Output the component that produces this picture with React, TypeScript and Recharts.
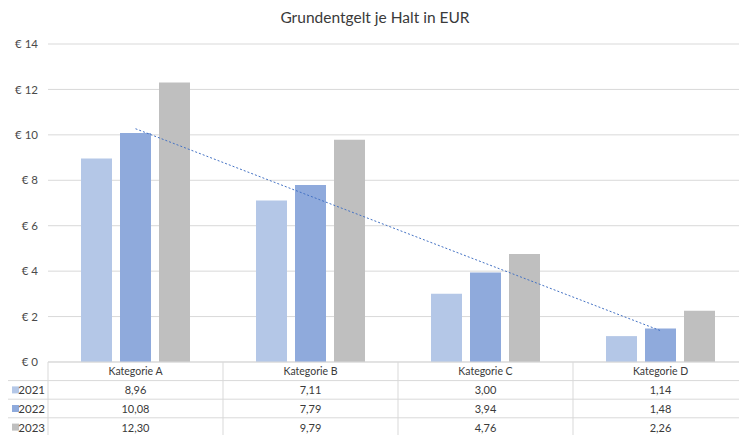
import React from 'react';
import { ComposedChart, Bar, Line, XAxis, YAxis, CartesianGrid } from 'recharts';

const categories = ['Kategorie A', 'Kategorie B', 'Kategorie C', 'Kategorie D'];
const values2021 = [8.96, 7.11, 3.0, 1.14];
const values2022 = [10.08, 7.79, 3.94, 1.48];
const values2023 = [12.3, 9.79, 4.76, 2.26];
const trend2022 = [10.27, 7.3, 4.34, 1.38];
const seriesNames = ['2021', '2022', '2023'];
const seriesKeys = ['y2021', 'y2022', 'y2023'];
const seriesColors = ['#b4c7e7', '#8faadc', '#bfbfbf'];
const yTicks = [0, 2, 4, 6, 8, 10, 12, 14];
const title = 'Grundentgelt je Halt in EUR';

const seriesValues = [values2021, values2022, values2023];

const data = categories.map((c, i) => ({
  name: c,
  y2021: values2021[i],
  y2022: values2022[i],
  y2023: values2023[i],
  trend: trend2022[i],
}));

const FONT = 'Lato, "Open Sans", sans-serif';
const BORDER = '#d9d9d9';
const ROW = 18.6;
const fmt = (v: number) => v.toFixed(2).replace('.', ',');

function TableTick(props: any) {
  const { x, y, payload, index, width } = props;
  const half = payload && payload.offset ? payload.offset : width / categories.length / 2;
  const left = x - half;
  const right = x + half;
  const bottom = y + ROW * 4 + 4;
  const els: any[] = [];
  els.push(<line key="vl" x1={left} y1={y} x2={left} y2={bottom} stroke={BORDER} strokeWidth={1} />);
  if (index === categories.length - 1) {
    els.push(<line key="vr" x1={right} y1={y} x2={right} y2={bottom} stroke={BORDER} strokeWidth={1} />);
  }
  for (let r = 1; r <= 3; r++) {
    els.push(
      <line key={'h' + r} x1={left} y1={y + ROW * r} x2={right} y2={y + ROW * r} stroke={BORDER} strokeWidth={1} />
    );
  }
  els.push(
    <text key="hd" x={x} y={y + ROW / 2} textAnchor="middle" dominantBaseline="central" fontSize={10.5} fill="#3a3a3a" fontFamily={FONT}>
      {payload.value}
    </text>
  );
  seriesValues.forEach((vals, s) => {
    els.push(
      <text key={'v' + s} x={x} y={y + ROW * (s + 1.5)} textAnchor="middle" dominantBaseline="central" fontSize={11} fill="#3a3a3a" fontFamily={FONT}>
        {fmt(vals[index])}
      </text>
    );
  });
  if (index === 0) {
    const lx = left - 40;
    for (let r = 1; r <= 3; r++) {
      els.push(
        <line key={'lh' + r} x1={lx} y1={y + ROW * r} x2={left} y2={y + ROW * r} stroke={BORDER} strokeWidth={1} />
      );
    }
    seriesNames.forEach((n, s) => {
      const cy = y + ROW * (s + 1.5);
      els.push(<rect key={'lr' + s} x={lx + 4} y={cy - 3.5} width={7} height={7} fill={seriesColors[s]} />);
      els.push(
        <text key={'lt' + s} x={left - 3} y={cy} textAnchor="end" dominantBaseline="central" fontSize={11.5} fill="#3a3a3a" fontFamily={FONT}>
          {n}
        </text>
      );
    });
  }
  return <g>{els}</g>;
}

export default function App() {
  return (
    <div style={{ position: 'absolute', left: 0, top: 0, width: 739, height: 435, overflow: 'hidden', background: '#fff' }}>
      <div
        style={{
          position: 'absolute',
          left: 0,
          top: 8,
          width: 750,
          textAlign: 'center',
          fontFamily: FONT,
          fontSize: 15.5,
          color: '#3a3a3a',
        }}
      >
        {title}
      </div>
      <ComposedChart
        width={750}
        height={435}
        data={data}
        margin={{ top: 44, right: 2, bottom: 0, left: 8 }}
        barGap={8}
        barCategoryGap={33}
      >
        <CartesianGrid vertical={false} stroke={BORDER} strokeWidth={1} />
        <XAxis
          dataKey="name"
          height={73}
          tick={<TableTick />}
          tickLine={false}
          tickSize={0}
          tickMargin={0}
          axisLine={{ stroke: BORDER }}
          interval={0}
        />
        <YAxis
          width={40}
          domain={[0, 14]}
          ticks={yTicks}
          axisLine={false}
          tickLine={false}
          tickMargin={4}
          tickFormatter={(v: number) => `€ ${v}`}
          tick={{ fontSize: 11.5, fill: '#4a4a4a', fontFamily: FONT }}
        />
        {seriesKeys.map((k, i) => (
          <Bar key={k} dataKey={k} name={seriesNames[i]} fill={seriesColors[i]} barSize={31} isAnimationActive={false} />
        ))}
        <Line
          dataKey="trend"
          stroke="#4472c4"
          strokeWidth={1}
          strokeDasharray="2 2"
          dot={false}
          activeDot={false}
          isAnimationActive={false}
        />
      </ComposedChart>
    </div>
  );
}
